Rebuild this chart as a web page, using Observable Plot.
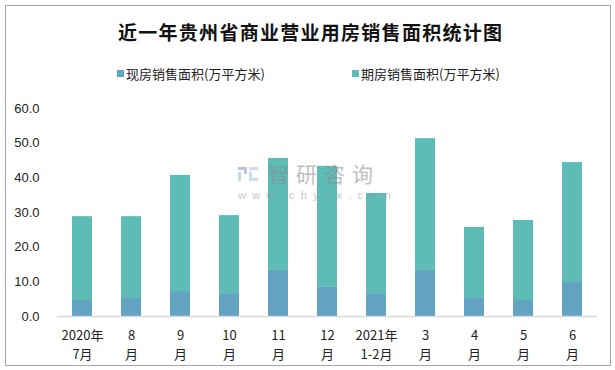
<!DOCTYPE html>
<html><head><meta charset="utf-8">
<script src="https://cdn.jsdelivr.net/npm/d3@7"></script>
<script src="https://cdn.jsdelivr.net/npm/@observablehq/plot@0.6"></script>
<style>
body{margin:0;background:#fff;font-family:"Noto Sans CJK SC","Liberation Sans",sans-serif;}
#wrap{position:relative;width:615px;height:370px;overflow:hidden;}
#frame{position:absolute;left:5px;top:5px;width:606px;height:361px;border:1px solid #a6a6a6;box-sizing:border-box;pointer-events:none;}
#title{position:absolute;left:118px;top:18px;font-size:19px;font-weight:bold;color:#111;font-family:"Noto Sans CJK SC",serif;white-space:nowrap;}
.leg{position:absolute;top:64px;font-size:13px;color:#222;display:flex;align-items:center;white-space:nowrap;}
.sw{width:7px;height:7px;margin-right:2px;display:inline-block;}
#chart{position:absolute;left:0;top:100px;}
#wm{position:absolute;left:238px;top:162px;pointer-events:none;opacity:0.55;}
#wm .big{position:absolute;left:30px;top:-4px;font-size:21px;letter-spacing:7px;color:#8a8a8a;white-space:nowrap;}
#wm .small{position:absolute;left:0;top:27px;font-size:11px;letter-spacing:6.2px;color:#999;white-space:nowrap;font-family:"Liberation Sans",sans-serif;}
#wm .logo{position:absolute;left:0;top:5px;width:20px;height:14px;}
</style></head>
<body>
<div id="wrap">
  <div id="title">近一年贵州省商业营业用房销售面积统计图</div>
  <div id="legend"></div>
  <div id="chart"></div>
  <div id="wm">
    <svg class="logo" width="20" height="14"><rect x="0" y="0" width="9" height="3" fill="#7f95b8"/><rect x="6" y="0" width="3" height="7" fill="#7f95b8"/><rect x="0" y="5" width="3" height="9" fill="#9fb8d8"/><rect x="11" y="0" width="9" height="3" fill="#9fc0e0"/><rect x="11" y="5" width="3" height="9" fill="#9fc0e0"/><rect x="14" y="11" width="6" height="3" fill="#9fc0e0"/></svg>
    <div class="big">智研咨询</div>
    <div class="small">www.chyxx.com</div>
  </div>
  <div id="frame"></div>
</div>
<script>
const categories = ["2020年\n7月","8\n月","9\n月","10\n月","11\n月","12\n月","2021年\n1-2月","3\n月","4\n月","5\n月","6\n月"];
const seriesNames = ["现房销售面积(万平方米)","期房销售面积(万平方米)"];
const currentArea = [4.6, 5.2, 7.2, 6.6, 13.3, 8.4, 6.6, 13.3, 5.2, 4.6, 9.8];
const futuresArea = [24.2, 23.6, 33.5, 22.5, 32.3, 34.9, 28.9, 38.0, 20.5, 23.1, 34.6];
const yTicks = [0, 10, 20, 30, 40, 50, 60];
const colors = ["#63a3c2", "#5dbcb6"];

// fit title to reference span (x 118..502)
(function(){
  const t = document.getElementById("title");
  const n = t.textContent.length;
  const w0 = t.getBoundingClientRect().width;
  const target = 384;
  t.style.letterSpacing = ((target - w0) / (n - 1)) + "px";
})();

const data = [];
categories.forEach((c, i) => {
  data.push({cat: c, series: seriesNames[0], value: currentArea[i]});
  data.push({cat: c, series: seriesNames[1], value: futuresArea[i]});
});

// legend
const legend = document.getElementById("legend");
const legX = [117, 352];
seriesNames.forEach((s, i) => {
  const d = document.createElement("div");
  d.className = "leg";
  d.style.left = legX[i] + "px";
  d.innerHTML = `<span class="sw" style="background:${colors[i]}"></span>${s}`;
  legend.appendChild(d);
});

const plot = Plot.plot({
  width: 615,
  height: 270,
  marginTop: 8,
  marginBottom: 54,
  marginLeft: 57,
  marginRight: 18,
  style: {fontFamily: "'Liberation Sans','Noto Sans CJK SC',sans-serif", fontSize: "13px", color: "#222", background: "transparent"},
  x: {domain: categories, paddingInner: 0.59, paddingOuter: 0.295, label: null},
  y: {domain: [0, 60], label: null},
  color: {domain: seriesNames, range: colors},
  marks: [
    Plot.barY(data, {x: "cat", y: "value", fill: "series", order: seriesNames}),
    Plot.ruleY([0], {stroke: "#d9d9d9", strokeWidth: 1.5}),
    Plot.axisY({ticks: yTicks, tickFormat: d3.format(".1f"), tickSize: 0, tickPadding: 18, label: null, fontSize: 13}),
    Plot.axisX({tickSize: 0, tickPadding: 11, label: null, lineHeight: 1.4, fontSize: 13, fontFamily: "'Noto Sans CJK SC',sans-serif"})
  ]
});
document.getElementById("chart").appendChild(plot);
</script>
</body></html>
